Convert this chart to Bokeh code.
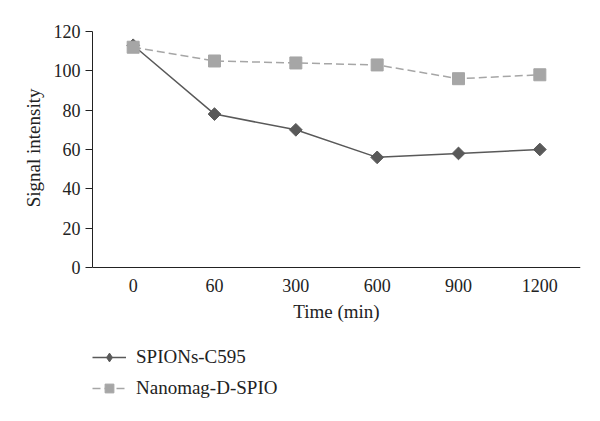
from bokeh.plotting import figure
from bokeh.models import (Range1d, Legend, LegendItem, ColumnDataSource, Title,
                          CDSView, IndexFilter)
from bokeh.embed import file_html
from bokeh.resources import INLINE
import numpy as np

times = ["0", "60", "300", "600", "900", "1200"]
spions = [113, 78, 70, 56, 58, 60]
nanomag = [112, 105, 104, 103, 96, 98]
y_ticks = [0, 20, 40, 60, 80, 100, 120]

FONT = "Liberation Serif"
DARK = "#595959"
LIGHT = "#a6a6a6"

src = ColumnDataSource(dict(t=times, s=spions, n=nanomag))

# frame spans down to the bottom so the legend can sit inside it;
# the x axis is pinned at y = 0
p = figure(x_range=times, y_range=Range1d(-74.24, 120), width=592, height=413,
           output_backend="svg", toolbar_location=None,
           min_border_left=92, min_border_right=12, min_border_top=31,
           min_border_bottom=0)
p.outline_line_color = None
p.grid.visible = False
p.background_fill_color = "white"

l1 = p.line("t", "s", source=src, line_color=DARK, line_width=1.5)
# legend marker (a single point, hidden under the rotated square below)
m1_leg = p.scatter("t", "s", source=src, view=CDSView(filter=IndexFilter([0])),
                   marker="diamond", size=9, fill_color=DARK, line_color=DARK)
m1 = p.scatter("t", "s", source=src, marker="square", angle=np.pi / 4,
               size=9, fill_color=DARK, line_color=DARK)
l2 = p.line("t", "n", source=src, line_color=LIGHT, line_width=1.5,
            line_dash="8 4")
m2 = p.scatter("t", "n", source=src, marker="square", size=12,
               fill_color=LIGHT, line_color=LIGHT)

# y axis
ya = p.yaxis[0]
ya.ticker = y_ticks
ya.bounds = (0, 120)
ya.major_tick_out = 7
ya.major_tick_in = 0
ya.minor_tick_line_color = None
ya.axis_line_color = "#222222"
ya.major_tick_line_color = "#222222"
ya.major_label_text_font = FONT
ya.major_label_text_font_size = "18px"
ya.major_label_text_color = "#222222"
ya.major_label_standoff = 5

ytitle = Title(text="Signal intensity", align="right", offset=57,
               text_font=FONT, text_font_size="19px", text_font_style="normal",
               text_color="#222222", standoff=14)
p.add_layout(ytitle, "left")

# x axis
xa = p.xaxis[0]
xa.fixed_location = 0
xa.major_tick_out = 0
xa.major_tick_in = 0
xa.axis_line_color = "#222222"
xa.major_label_text_font = FONT
xa.major_label_text_font_size = "18px"
xa.major_label_text_color = "#222222"
xa.major_label_standoff = 12
xa.axis_label = "Time (min)"
xa.axis_label_text_font = FONT
xa.axis_label_text_font_size = "19px"
xa.axis_label_text_font_style = "normal"
xa.axis_label_text_color = "#222222"
xa.axis_label_standoff = 5

legend = Legend(items=[LegendItem(label="SPIONs-C595", renderers=[l1, m1_leg]),
                       LegendItem(label="Nanomag-D-SPIO", renderers=[l2, m2])],
                location=(0, 14), orientation="vertical")
legend.border_line_color = None
legend.background_fill_alpha = 0
legend.margin = 0
legend.padding = 0
legend.glyph_width = 34
legend.glyph_height = 22
legend.label_height = 22
legend.spacing = 9
legend.label_standoff = 10
legend.label_text_font = FONT
legend.label_text_font_size = "19px"
legend.label_text_color = "#222222"
p.add_layout(legend, "center")

open("out.html", "w").write(file_html(p, INLINE))
